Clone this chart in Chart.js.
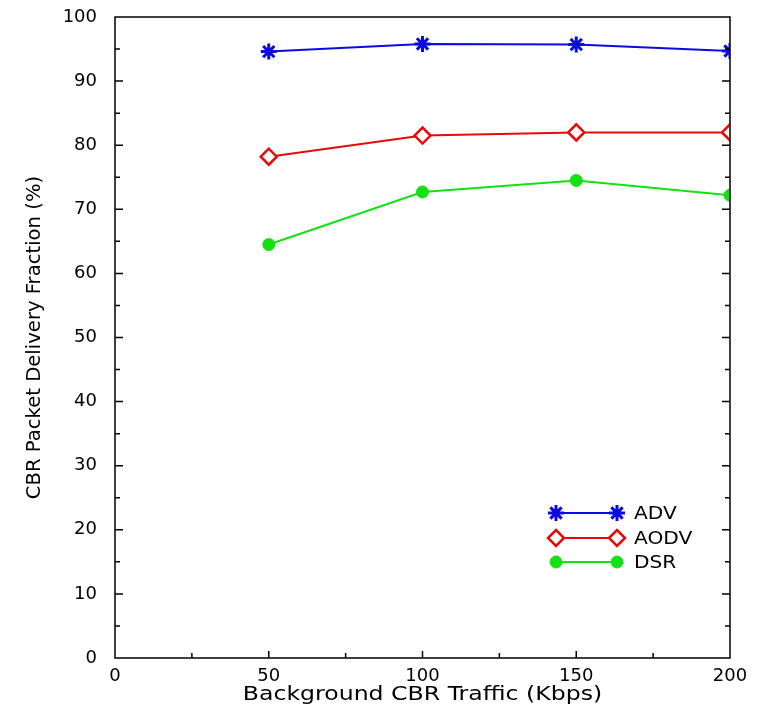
<!DOCTYPE html>
<html>
<head>
<meta charset="utf-8">
<script src="https://cdn.jsdelivr.net/npm/chart.js@4/dist/chart.umd.min.js"></script>
<style>
  html, body { margin: 0; padding: 0; background: #fff; }
  #wrap { width: 759px; height: 715px; }
</style>
</head>
<body>
<div id="wrap"><canvas id="grafica" width="759" height="715"></canvas></div>
<script>
// datos
const trafico = [50, 100, 150, 200];
const adv = [94.6, 95.8, 95.7, 94.7];
const aodv = [78.2, 81.5, 82.0, 82.0];
const dsr = [64.5, 72.7, 74.5, 72.2];
const ticksX = [0, 50, 100, 150, 200];
const ticksY = [0, 10, 20, 30, 40, 50, 60, 70, 80, 90, 100];
const tituloX = 'Background CBR Traffic (Kbps)';
const tituloY = 'CBR Packet Delivery Fraction (%)';

const fuente = 'DejaVu Sans, Liberation Sans, sans-serif';

function puntos(valores) {
  return trafico.map((x, i) => ({ x: x, y: valores[i] }));
}

// texto algo ensanchado, como en la figura original (fuente ancha)
function textoAncho(ctx, texto, x, y, size, estirar, angulo) {
  ctx.save();
  ctx.translate(x, y);
  if (angulo) ctx.rotate(angulo);
  ctx.scale(estirar, 1);
  ctx.font = size + 'px ' + fuente;
  ctx.fillStyle = '#000';
  ctx.textBaseline = 'middle';
  ctx.textAlign = 'center';
  ctx.fillText(texto, 0, 0);
  ctx.restore();
}

// marco, marcas hacia dentro y titulos de los ejes
const marcasInternas = {
  id: 'marcasInternas',
  afterDraw(chart) {
    const { ctx, chartArea: a, scales } = chart;
    ctx.save();
    ctx.strokeStyle = '#000';
    ctx.lineWidth = 1.5;
    ctx.strokeRect(a.left, a.top, a.right - a.left, a.bottom - a.top);
    ctx.beginPath();
    for (let v = 5; v < 100; v += 5) {
      const y = scales.y.getPixelForValue(v);
      const len = v % 10 === 0 ? 8 : 5;
      ctx.moveTo(a.left, y); ctx.lineTo(a.left + len, y);
      ctx.moveTo(a.right, y); ctx.lineTo(a.right - len, y);
    }
    for (let v = 25; v < 200; v += 25) {
      const x = scales.x.getPixelForValue(v);
      const len = v % 50 === 0 ? 7 : 5;
      ctx.moveTo(x, a.bottom); ctx.lineTo(x, a.bottom - len);
    }
    ctx.stroke();
    ctx.restore();
    const cx = (a.left + a.right) / 2;
    const cy = (a.top + a.bottom) / 2;
    textoAncho(ctx, tituloX, cx, 695, 20, 1.18, 0);
    textoAncho(ctx, tituloY, 35, cy, 20, 0.98, -Math.PI / 2);
  }
};

// leyenda abajo a la derecha
const leyenda = {
  id: 'leyenda',
  afterDraw(chart) {
    const { ctx } = chart;
    const x0 = 556, x1 = 617, xt = 634;
    const filas = [513, 538, 562];
    ctx.save();
    chart.data.datasets.forEach((ds, i) => {
      const y = filas[i];
      ctx.strokeStyle = ds.borderColor;
      ctx.lineWidth = 2;
      ctx.beginPath();
      ctx.moveTo(x0, y); ctx.lineTo(x1, y);
      ctx.stroke();
      const estilo = {
        pointStyle: ds.pointStyle,
        radius: ds.pointRadius,
        borderWidth: ds.pointBorderWidth
      };
      [x0, x1].forEach(px => {
        ctx.strokeStyle = ds.borderColor;
        ctx.fillStyle = ds.pointBackgroundColor;
        ctx.lineWidth = ds.pointBorderWidth;
        Chart.helpers.drawPoint(ctx, estilo, px, y);
      });
      ctx.save();
      ctx.translate(xt, y + 1);
      ctx.scale(1.12, 1);
      ctx.fillStyle = '#000';
      ctx.font = '18px ' + fuente;
      ctx.textBaseline = 'middle';
      ctx.textAlign = 'left';
      ctx.fillText(ds.label, 0, 0);
      ctx.restore();
    });
    ctx.restore();
  }
};

const ctx = document.getElementById('grafica').getContext('2d');
new Chart(ctx, {
  type: 'line',
  data: {
    datasets: [
      {
        label: 'ADV',
        data: puntos(adv),
        borderColor: 'rgb(10,10,225)',
        pointBackgroundColor: 'rgb(10,10,225)',
        borderWidth: 2,
        pointStyle: 'star',
        pointRadius: 8,
        pointBorderWidth: 3
      },
      {
        label: 'AODV',
        data: puntos(aodv),
        borderColor: 'rgb(230,10,10)',
        pointBackgroundColor: '#fff',
        borderWidth: 2,
        pointStyle: 'rectRot',
        pointRadius: 8,
        pointBorderWidth: 2.5
      },
      {
        label: 'DSR',
        data: puntos(dsr),
        borderColor: 'rgb(20,225,20)',
        pointBackgroundColor: 'rgb(20,225,20)',
        borderWidth: 2,
        pointStyle: 'circle',
        pointRadius: 6,
        pointBorderWidth: 1
      }
    ]
  },
  options: {
    responsive: false,
    animation: false,
    events: [],
    layout: { padding: { top: 17, right: 29, bottom: 0, left: 0 } },
    plugins: {
      legend: { display: false },
      tooltip: { enabled: false }
    },
    scales: {
      x: {
        type: 'linear',
        min: 0,
        max: 200,
        afterBuildTicks: s => { s.ticks = ticksX.map(v => ({ value: v })); },
        afterFit: s => { s.height = 57; s.paddingLeft = 0; s.paddingRight = 0; },
        grid: { display: false, drawTicks: false },
        border: { display: false },
        ticks: {
          color: '#000',
          padding: 8,
          maxRotation: 0,
          font: { family: fuente, size: 18 }
        }
      },
      y: {
        min: 0,
        max: 100,
        afterBuildTicks: s => { s.ticks = ticksY.map(v => ({ value: v })); },
        afterFit: s => { s.width = 115; s.paddingTop = 0; s.paddingBottom = 0; },
        grid: { display: false, drawTicks: false },
        border: { display: false },
        ticks: {
          color: '#000',
          padding: 18,
          font: { family: fuente, size: 18 }
        }
      }
    }
  },
  plugins: [marcasInternas, leyenda]
});
</script>
</body>
</html>
